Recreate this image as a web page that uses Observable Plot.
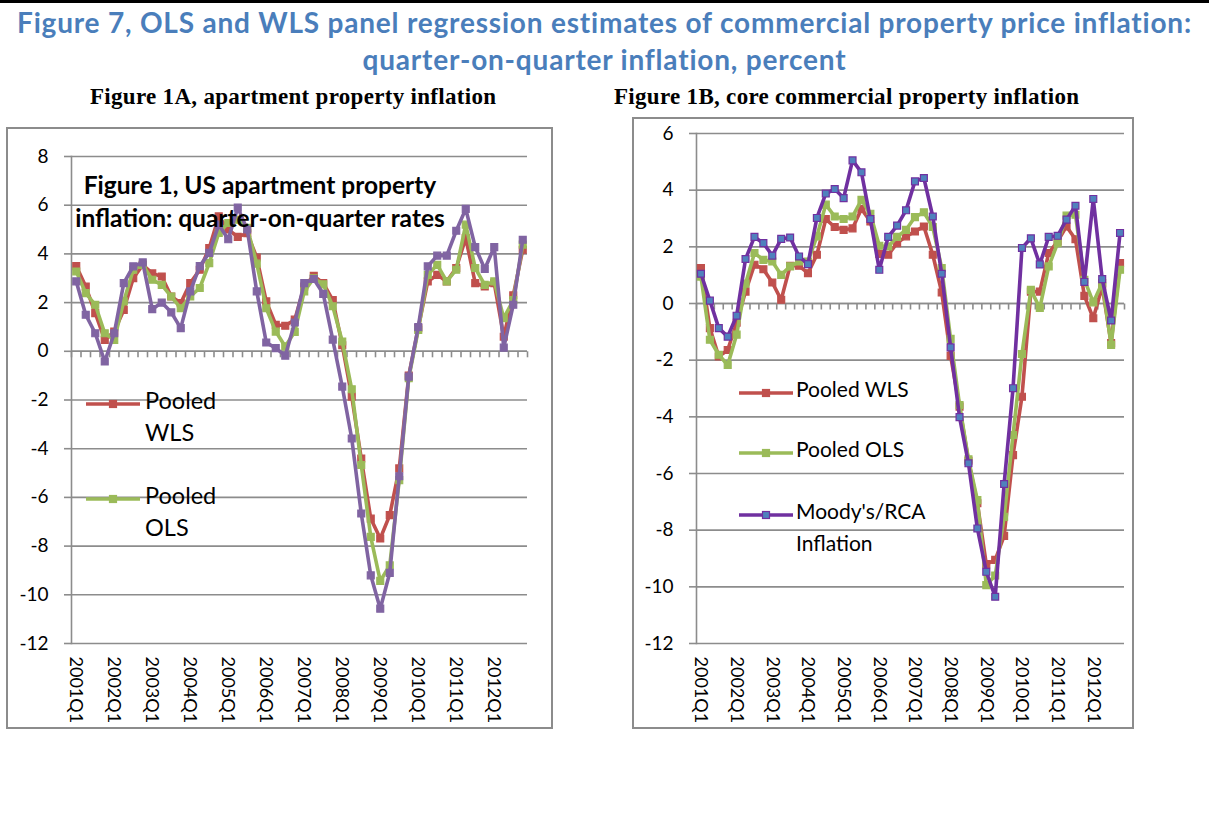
<!DOCTYPE html>
<html>
<head>
<meta charset="utf-8">
<script src="https://cdn.jsdelivr.net/npm/d3@7"></script>
<script src="https://cdn.jsdelivr.net/npm/@observablehq/plot@0.6"></script>
<style>
  html, body { margin: 0; padding: 0; background: #fff; }
  body { width: 1209px; height: 823px; position: relative; overflow: hidden; font-family: Lato, sans-serif; }
  #topline { position: absolute; left: 0; top: 0; width: 1209px; height: 3px; background: #000; }
  .title { position: absolute; left: 0; width: 1209px; text-align: center; font: bold 28px Lato, sans-serif; letter-spacing: 0.8px; color: #4a7ebb; white-space: nowrap; }
  .sub { position: absolute; font: bold 23px "Liberation Serif", "Times New Roman", serif; letter-spacing: 0.3px; color: #000; white-space: nowrap; }
  .box { position: absolute; border: 2px solid #8c8c8c; box-sizing: border-box; }
  .chart { position: absolute; }
  .overlay { position: absolute; font: bold 24.5px Lato, sans-serif; color: #000; white-space: nowrap; text-align: center; }
  .leg { position: absolute; font: 21px Lato, sans-serif; color: #000; white-space: nowrap; line-height: 32px; }
  .legA { font-size: 23.5px; }
  .legsw { position: absolute; }
</style>
</head>
<body>
<div id="topline"></div>
<div class="title" style="top:5px">Figure 7, OLS and WLS panel regression estimates of commercial property price inflation:</div>
<div class="title" style="top:42px">quarter-on-quarter inflation, percent</div>
<div class="sub" style="left:90px; top:84px">Figure 1A, apartment property inflation</div>
<div class="sub" style="left:614px; top:84px">Figure 1B, core commercial property inflation</div>
<div class="box" style="left:6px; top:127px; width:547px; height:602px"></div>
<div class="box" style="left:632px; top:117px; width:502px; height:612px"></div>
<div id="chartA" class="chart" style="left:6px; top:127px"></div>
<div id="chartB" class="chart" style="left:632px; top:117px"></div>

<script>
// ---------- categories & tick labels ----------
const quarters = [
  "2001Q1","2001Q2","2001Q3","2001Q4","2002Q1","2002Q2","2002Q3","2002Q4",
  "2003Q1","2003Q2","2003Q3","2003Q4","2004Q1","2004Q2","2004Q3","2004Q4",
  "2005Q1","2005Q2","2005Q3","2005Q4","2006Q1","2006Q2","2006Q3","2006Q4",
  "2007Q1","2007Q2","2007Q3","2007Q4","2008Q1","2008Q2","2008Q3","2008Q4",
  "2009Q1","2009Q2","2009Q3","2009Q4","2010Q1","2010Q2","2010Q3","2010Q4",
  "2011Q1","2011Q2","2011Q3","2011Q4","2012Q1","2012Q2","2012Q3","2012Q4"
];
const xTickLabels = ["2001Q1","2002Q1","2003Q1","2004Q1","2005Q1","2006Q1","2007Q1","2008Q1","2009Q1","2010Q1","2011Q1","2012Q1"];
const yTicksA = [-12,-10,-8,-6,-4,-2,0,2,4,6,8];
const yTicksB = [-12,-10,-8,-6,-4,-2,0,2,4,6];

// ---------- Figure 1A: apartment ----------
const aptWLS = [3.5,2.66,1.57,0.47,0.81,1.7,3.0,3.55,3.2,3.07,2.25,1.98,
  2.8,3.35,4.24,5.54,5.0,4.7,4.85,3.85,2.05,1.09,1.05,1.3,
  2.66,3.1,2.8,2.1,0.25,-1.86,-4.4,-6.87,-7.69,-6.73,-4.81,-1.0,
  0.95,2.87,3.14,2.87,3.42,4.65,2.8,2.66,2.8,0.6,2.3,4.17];
const aptOLS = [3.28,2.39,1.91,0.74,0.47,2.05,3.35,3.55,2.94,2.73,2.25,1.77,
  2.25,2.6,3.62,4.86,5.27,5.4,5.07,3.6,1.77,0.81,0.2,0.8,
  2.46,3.0,2.75,1.85,0.4,-1.56,-4.67,-7.62,-9.43,-8.79,-5.29,-1.1,
  0.88,3.14,3.55,2.87,3.35,5.2,3.42,2.73,2.87,1.36,2.1,4.38];
const aptRCA = [2.87,1.5,0.74,-0.42,0.74,2.8,3.49,3.65,1.73,2.0,1.6,0.95,
  2.46,3.5,4.04,5.2,4.6,5.9,5.0,2.46,0.36,0.13,-0.18,1.18,
  2.8,2.97,2.36,0.48,-1.45,-3.58,-6.66,-9.2,-10.57,-9.1,-5.13,-1.04,
  1.0,3.49,3.93,3.93,4.95,5.85,4.28,3.38,4.28,0.15,1.91,4.58];

// ---------- Figure 1B: core commercial ----------
const coreWLS = [1.25,-0.87,-1.87,-1.64,-0.68,0.42,1.37,1.21,0.74,0.13,1.33,1.33,
  1.07,1.72,2.98,2.7,2.6,2.65,3.34,2.9,1.75,1.72,2.13,2.37,
  2.54,2.72,1.72,0.39,-1.85,-3.64,-5.55,-7.05,-9.2,-9.05,-8.2,-5.35,
  -3.29,0.42,0.42,1.78,2.19,2.72,2.27,0.27,-0.52,0.6,-1.4,1.43];
const coreOLS = [0.95,-1.28,-1.81,-2.17,-1.1,0.7,1.78,1.54,1.48,1.01,1.31,1.48,
  1.48,2.37,3.49,3.07,2.98,3.07,3.66,3.17,2.04,2.01,2.35,2.6,
  3.05,3.22,2.7,1.25,-1.25,-3.58,-5.5,-6.94,-9.94,-9.6,-7.53,-4.64,
  -1.78,0.48,-0.16,1.31,2.13,3.1,3.13,0.84,0.04,0.72,-1.46,1.19];
const coreRCA = [1.05,0.1,-0.87,-1.17,-0.43,1.57,2.35,2.13,1.69,2.28,2.33,1.66,
  1.39,3.02,3.88,4.04,3.72,5.05,4.63,2.98,1.19,2.35,2.75,3.29,
  4.31,4.43,3.07,1.05,-1.55,-4.01,-5.64,-7.94,-9.47,-10.35,-6.37,-2.99,
  1.96,2.3,1.38,2.35,2.39,2.96,3.45,0.76,3.69,0.86,-0.6,2.49];

// ---------- styles ----------
const GRID = "#8c8c8c";
const RED = "#c0504d", GREEN = "#9bbb59", PURPLE = "#8064a2", DPURPLE = "#7030a0", BLUE = "#4f81bd";

const rows = vals => vals.map((v, i) => ({i, q: quarters[i], v}));
const tickIdx = xTickLabels.map(t => quarters.indexOf(t));
const bounds = [-0.5, ...quarters.map((q, i) => i + 0.5)];
const tickDown = {draw(ctx) { ctx.moveTo(0, 0); ctx.lineTo(0, 6); }};

function panel({width, height, margins, yDomain, yTicks, series}) {
  const marks = [
    Plot.gridY(yTicks, {stroke: GRID, strokeOpacity: 1, strokeWidth: 1.6}),
    Plot.axisY(yTicks, {tickSize: 7, tickPadding: 16, stroke: GRID, strokeWidth: 1.6, fill: "#000", fontSize: 19, label: null, tickFormat: d => String(d)}),
    Plot.axisX(tickIdx, {anchor: "bottom", tickFormat: i => quarters[i], tickRotate: 90, tickSize: 0, tickPadding: 13, fontSize: 18, fill: "#000", label: null}),
    Plot.frame({anchor: "left", stroke: GRID, strokeWidth: 1.6}),
    Plot.ruleY([0], {stroke: GRID, strokeWidth: 1.6}),
    Plot.dot(bounds, {x: d => d, y: () => 0, symbol: tickDown, fill: "none", stroke: GRID, strokeWidth: 1.6})
  ];
  for (const s of series) {
    marks.push(Plot.line(rows(s.values), {x: "i", y: "v", stroke: s.line, strokeWidth: 3.6, strokeLinejoin: "round"}));
    marks.push(Plot.dot(rows(s.values), {x: "i", y: "v", symbol: "square", r: 3.9, fill: s.fill, stroke: s.mstroke, strokeWidth: 1.2}));
  }
  return Plot.plot({
    width, height, ...margins,
    x: {domain: [-0.5, quarters.length - 0.5], axis: null},
    y: {domain: yDomain, axis: null},
    style: {fontFamily: "Lato, sans-serif", fontSize: "18px", color: "#000", background: "transparent", overflow: "visible"},
    marks
  });
}

document.getElementById("chartA").append(panel({
  width: 547, height: 602,
  margins: {marginLeft: 65, marginRight: 26, marginTop: 29, marginBottom: 86},
  yDomain: [-12, 8], yTicks: yTicksA,
  series: [
    {values: aptWLS, line: RED, fill: RED, mstroke: RED},
    {values: aptOLS, line: GREEN, fill: GREEN, mstroke: GREEN},
    {values: aptRCA, line: PURPLE, fill: PURPLE, mstroke: PURPLE}
  ]
}));

document.getElementById("chartB").append(panel({
  width: 502, height: 612,
  margins: {marginLeft: 64, marginRight: 10, marginTop: 16, marginBottom: 86},
  yDomain: [-12, 6], yTicks: yTicksB,
  series: [
    {values: coreWLS, line: RED, fill: RED, mstroke: RED},
    {values: coreOLS, line: GREEN, fill: GREEN, mstroke: GREEN},
    {values: coreRCA, line: DPURPLE, fill: BLUE, mstroke: DPURPLE}
  ]
}));

// ---------- legends & in-chart text ----------
function swatch(x, y, color, fill, stroke) {
  const d = document.createElement("div");
  d.className = "legsw";
  d.style.left = x + "px"; d.style.top = (y - 6) + "px";
  d.innerHTML = `<svg width="56" height="12"><line x1="1" x2="55" y1="6" y2="6" stroke="${color}" stroke-width="3.6"/>` +
    `<rect x="24.5" y="2.5" width="7" height="7" fill="${fill}" stroke="${stroke}" stroke-width="1.2"/></svg>`;
  document.body.append(d);
}
function label(x, y, html, cls) {
  const d = document.createElement("div");
  d.className = "leg" + (cls ? " " + cls : "");
  d.style.left = x + "px"; d.style.top = (y - 16) + "px";
  d.innerHTML = html;
  document.body.append(d);
}
// Figure 1A legend
swatch(85, 400, RED, RED, RED);   label(145, 400, "Pooled<br>WLS", "legA");
swatch(85, 495, GREEN, GREEN, GREEN); label(145, 495, "Pooled<br>OLS", "legA");
// Figure 1B legend
swatch(738, 389, RED, RED, RED);   label(796, 389, "Pooled WLS");
swatch(738, 449, GREEN, GREEN, GREEN); label(796, 449, "Pooled OLS");
swatch(738, 511, DPURPLE, BLUE, DPURPLE); label(796, 511, "Moody's/RCA<br>Inflation");

// overlay title inside Figure 1A
const ov = document.createElement("div");
ov.className = "overlay";
ov.style.left = "60px"; ov.style.width = "400px"; ov.style.top = "168px"; ov.style.lineHeight = "33px";
ov.innerHTML = "Figure 1, US apartment property<br>inflation: quarter-on-quarter rates";
document.body.append(ov);
</script>
</body>
</html>
